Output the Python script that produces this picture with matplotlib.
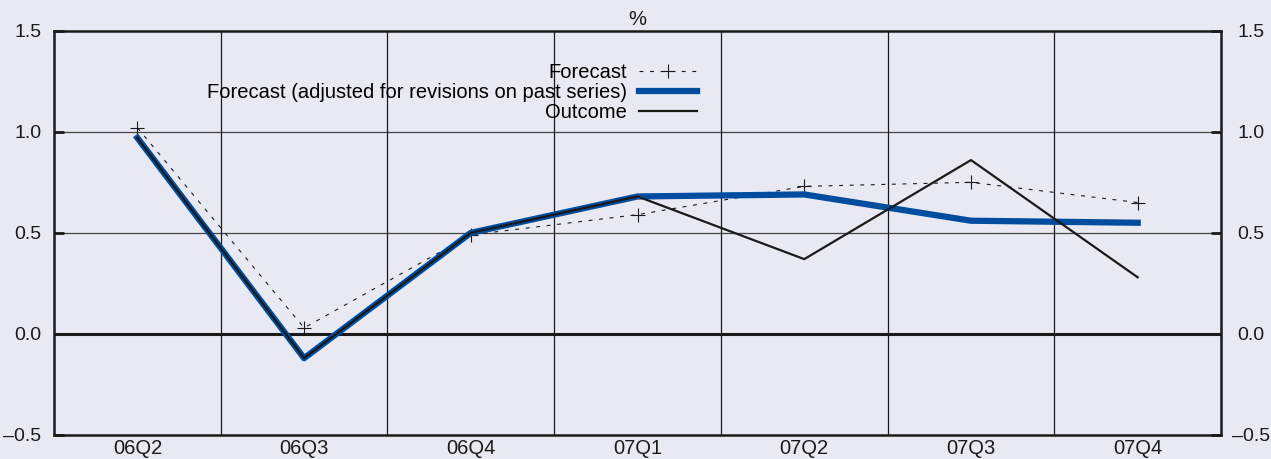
import matplotlib
matplotlib.use("Agg")
import matplotlib.pyplot as plt

# Colors
bg = "#E9E9F3"
blue = "#004C9E"
dark = "#1A1A1A"

plt.rcParams["font.family"] = ["Liberation Sans", "DejaVu Sans"]
fs = 14.5

# Data
quarters = ["06Q2", "06Q3", "06Q4", "07Q1", "07Q2", "07Q3", "07Q4"]
forecast = [1.02, 0.03, 0.49, 0.59, 0.73, 0.75, 0.65]
forecast_adj = [0.97, -0.12, 0.50, 0.68, 0.69, 0.56, 0.55]
outcome = [0.97, -0.12, 0.50, 0.68, 0.37, 0.86, 0.28]
yticks = [-0.5, 0.0, 0.5, 1.0, 1.5]
ylabels = [f"{v:.1f}".replace("-", "\u2013") for v in yticks]

fig = plt.figure(figsize=(12.71, 4.59), dpi=100, facecolor=bg)
ax = fig.add_axes([0.0425, 0.0523, 0.9182, 0.8808])
ax.set_facecolor(bg)

x = list(range(len(quarters)))

# Grid: horizontal at 0.5 steps, vertical between quarters
for v in [0.5, 1.0]:
    ax.axhline(v, color="#444444", lw=0.9, zorder=1)
ax.axhline(0.0, color=dark, lw=2.2, zorder=1)
for b in x[:-1]:
    ax.axvline(b + 0.5, color=dark, lw=0.9, zorder=1)

ax.plot(x, forecast, color=dark, lw=0.8, ls=(0, (3.5, 6)), marker="+",
        markersize=10, markeredgewidth=0.8, label="Forecast", zorder=3)
ax.plot(x, forecast_adj, color=blue, lw=4.5,
        label="Forecast (adjusted for revisions on past series)", zorder=4)
ax.plot(x, outcome, color=dark, lw=1.6, label="Outcome", zorder=5)

ax.set_xlim(-0.5, len(quarters) - 0.5)
ax.set_ylim(-0.5, 1.5)
ax.set_xticks(x)
ax.set_xticklabels(quarters, fontsize=fs, color=dark)
ax.tick_params(axis="x", length=0, pad=3)
ax.set_yticks(yticks)
ax.set_yticklabels(ylabels)
ax.tick_params(axis="y", direction="in", length=7, width=2, color=dark,
               labelsize=14, labelcolor=dark, pad=9,
               left=True, right=True, labelleft=True, labelright=False)

# right-hand labels, centred a little away from the spine
for v, lbl in zip(yticks, ylabels):
    ax.text(1.0257, v, lbl, transform=ax.get_yaxis_transform(),
            ha="center", va="center_baseline", fontsize=14, color=dark)

for spine in ax.spines.values():
    spine.set_color(dark)
    spine.set_linewidth(1.8)

ax.text(0.5, 1.005, "%", transform=ax.transAxes, ha="center", va="bottom",
        fontsize=fs, color=dark)

ax.legend(loc="upper right", bbox_to_anchor=(0.5575, 0.94), frameon=False,
          markerfirst=False, handlelength=2.85, fontsize=fs,
          labelspacing=0.05, handletextpad=0.6, borderaxespad=0)

fig.savefig("out.png", dpi=100, facecolor=bg)
